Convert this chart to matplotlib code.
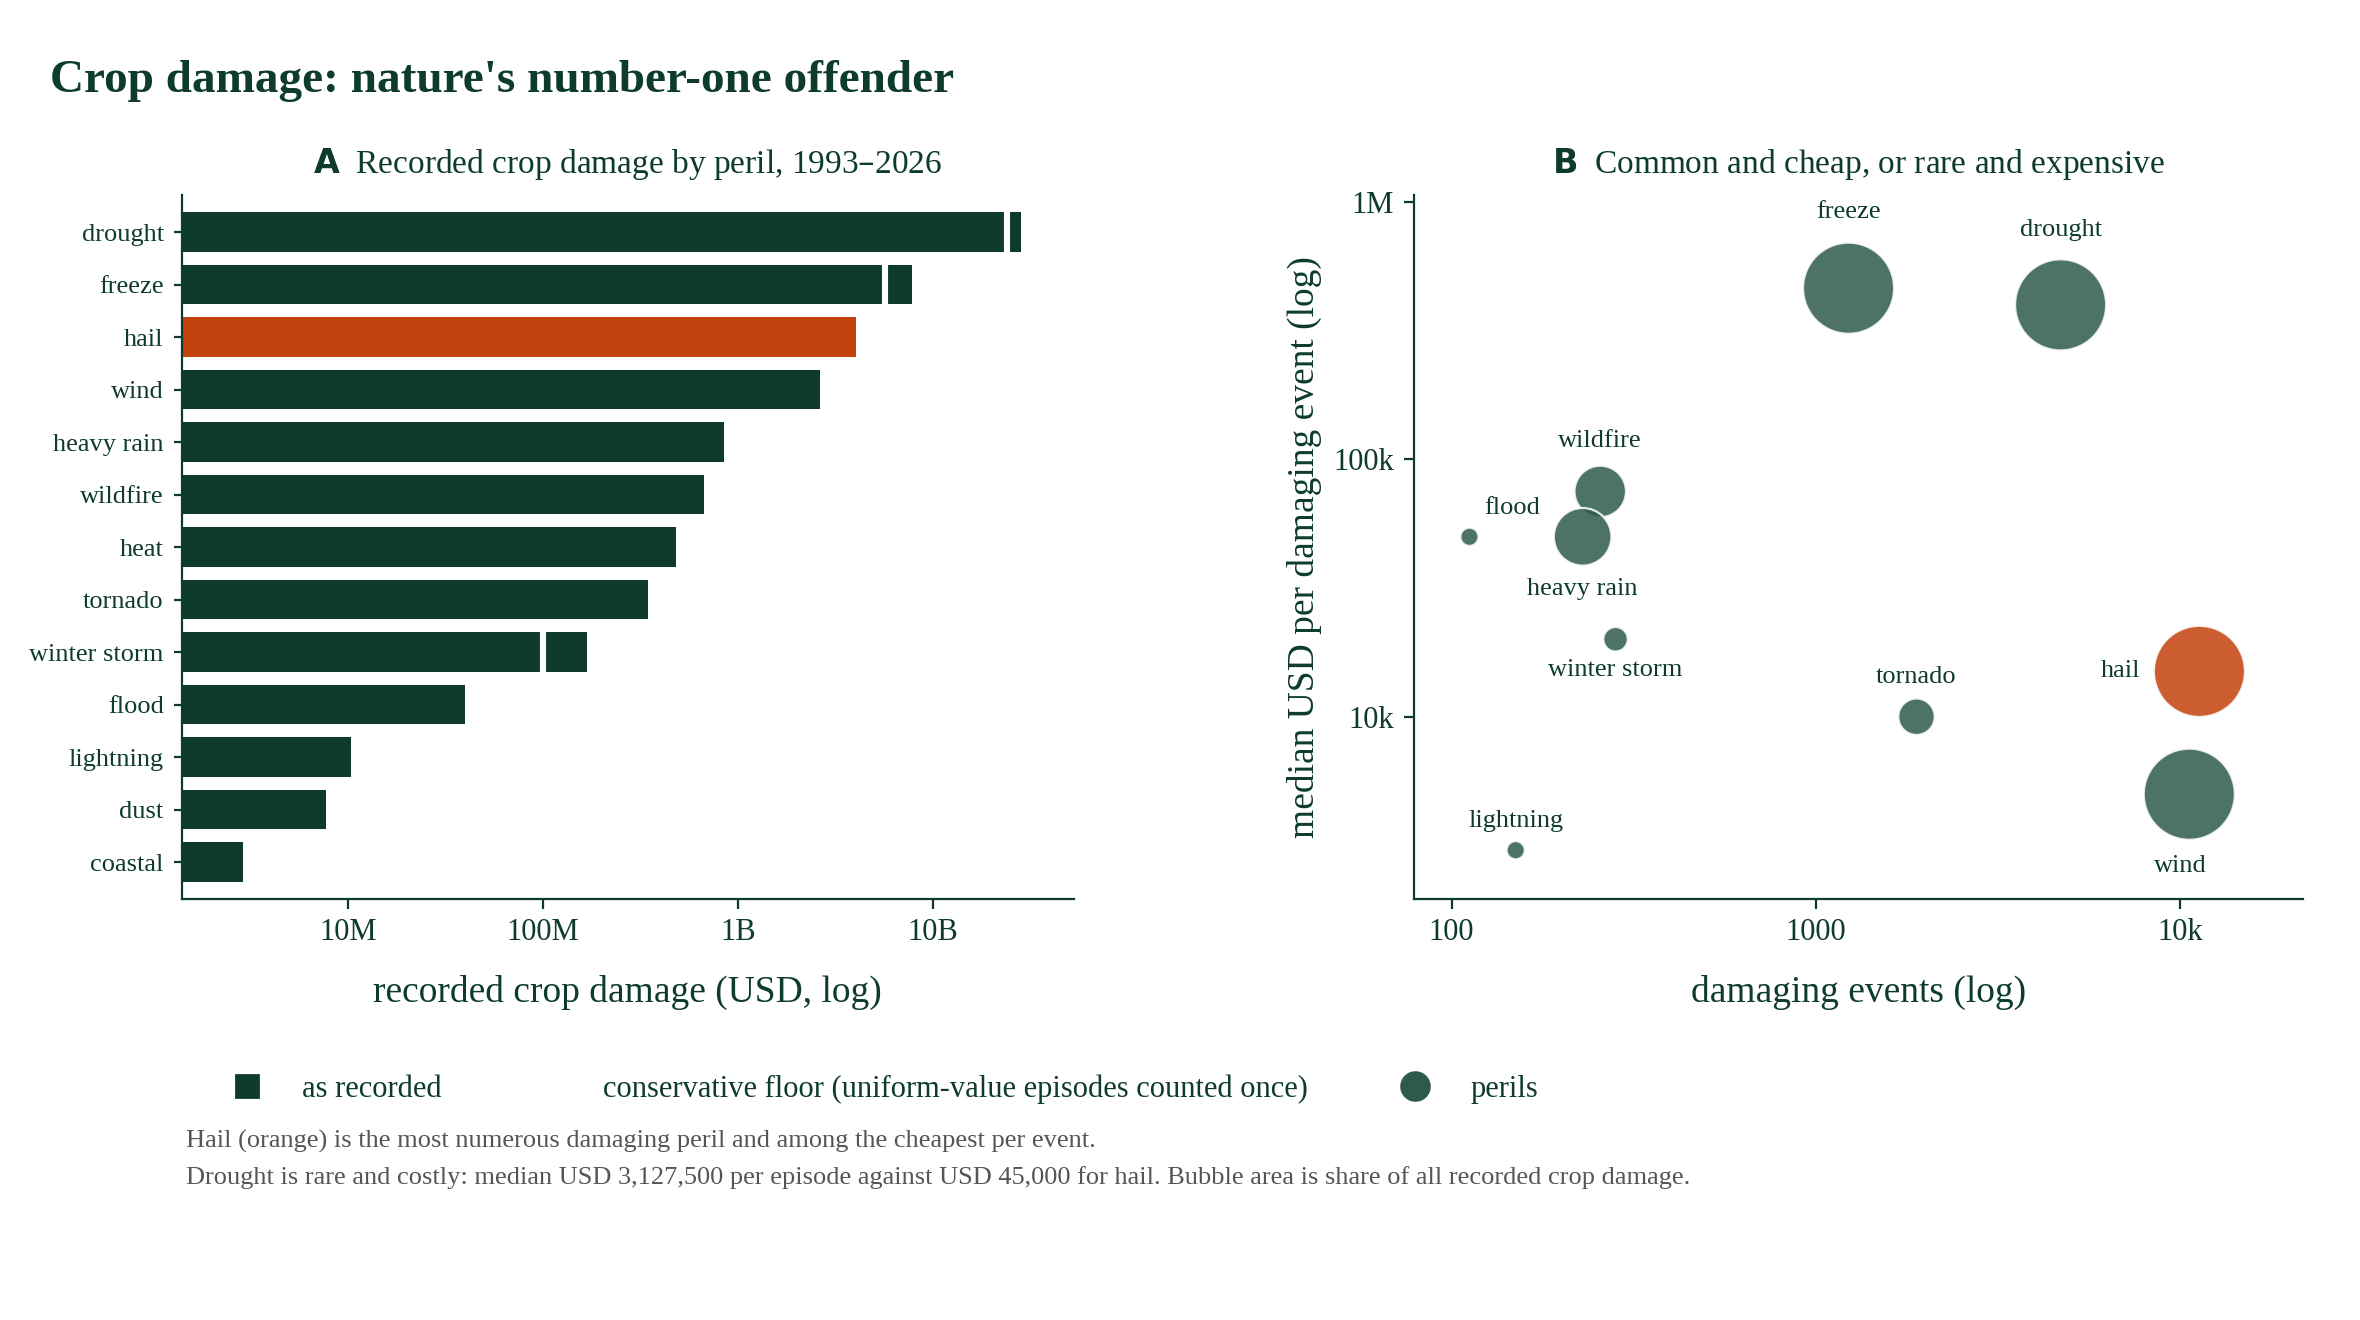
import matplotlib
matplotlib.use("Agg")
import matplotlib.pyplot as plt
from matplotlib.ticker import FixedLocator, FixedFormatter, NullLocator
from matplotlib.lines import Line2D
import numpy as np

plt.rcParams['font.family'] = ['Liberation Serif', 'DejaVu Serif']
DARK = '#0d3b2e'
BUB = '#2e5a4c'
ORANGE = '#c2410c'

perils = ['drought', 'freeze', 'hail', 'wind', 'heavy rain', 'wildfire', 'heat', 'tornado',
          'winter storm', 'flood', 'lightning', 'dust', 'coastal']
recorded = [28.4e9, 7.8e9, 4.06e9, 2.64e9, 851e6, 673e6, 479e6, 346e6, 169e6, 40e6, 10.4e6, 7.7e6, 2.9e6]
floor = [24.2e9, 5.7e9, None, None, None, None, None, None, 100e6, None, None, None, None]

sc_perils = ['freeze', 'drought', 'wildfire', 'flood', 'heavy rain', 'winter storm', 'tornado', 'hail', 'wind', 'lightning']
sc_events = [1230, 4700, 256, 112, 229, 282, 1890, 11300, 10600, 150]
sc_median = [462e3, 398e3, 75e3, 50e3, 50e3, 20e3, 10e3, 15e3, 5e3, 3.03e3]
sc_share = [25, 25, 8, 1, 10, 1.8, 4, 25, 25, 1]

fig = plt.figure(figsize=(11.8, 6.6), dpi=200)
fig.text(0.021, 0.939, "Crop damage: nature's number-one offender", fontsize=17, fontweight='bold',
         color=DARK, va='center')

# Panel A
ax = fig.add_axes([0.077, 0.319, 0.378, 0.533])
y = np.arange(len(perils))
colors = [ORANGE if p == 'hail' else DARK for p in perils]
ax.barh(y, recorded, height=0.75, color=colors, left=1)
for i, f in enumerate(floor):
    if f is not None:
        ax.plot([f, f], [i - 0.375, i + 0.375], color='white', lw=2.2, solid_capstyle='butt')
ax.set_xscale('log')
ax.set_xlim(1.4e6, 53e9)
ax.set_ylim(len(perils) - 0.3, -0.7)
ax.set_yticks(y)
ax.set_yticklabels(perils, fontsize=9.5, color=DARK)
ax.xaxis.set_major_locator(FixedLocator([1e7, 1e8, 1e9, 1e10]))
ax.xaxis.set_major_formatter(FixedFormatter(['10M', '100M', '1B', '10B']))
ax.xaxis.set_minor_locator(NullLocator())
ax.tick_params(axis='x', labelsize=11, colors=DARK)
ax.tick_params(axis='y', length=3, colors=DARK)
ax.set_xlabel('recorded crop damage (USD, log)', fontsize=13.5, color=DARK, labelpad=10)
for s in ['top', 'right']:
    ax.spines[s].set_visible(False)
for s in ['left', 'bottom']:
    ax.spines[s].set_color(DARK)
ax.set_title(r'$\bf{A}$  Recorded crop damage by peril, 1993–2026', fontsize=12, color=DARK, pad=8)

# Panel B
bx = fig.add_axes([0.599, 0.319, 0.377, 0.533])
scol = [ORANGE if p == 'hail' else BUB for p in sc_perils]
bx.scatter(sc_events, sc_median, s=[v * 43 for v in sc_share], c=scol, alpha=0.85,
           edgecolors='white', linewidths=0.8, zorder=3)
offs = {'freeze': (0, 50), 'drought': (0, 49), 'wildfire': (0, 33), 'flood': (28, 19),
        'heavy rain': (0, -34), 'winter storm': (0, -20), 'tornado': (0, 26), 'hail': (-52, 0),
        'wind': (-6, -47), 'lightning': (0, 19)}
for p, xv, yv in zip(sc_perils, sc_events, sc_median):
    dx, dy = offs[p]
    bx.annotate(p, (xv, yv), xytext=(dx * 0.548, dy * 0.548), textcoords='offset points',
                ha='center', va='center', fontsize=9.5, color=DARK)
bx.set_xscale('log')
bx.set_yscale('log')
bx.set_xlim(78.7, 21800)
bx.set_ylim(1960, 1.06e6)
bx.xaxis.set_major_locator(FixedLocator([100, 1000, 10000]))
bx.xaxis.set_major_formatter(FixedFormatter(['100', '1000', '10k']))
bx.yaxis.set_major_locator(FixedLocator([1e4, 1e5, 1e6]))
bx.yaxis.set_major_formatter(FixedFormatter(['10k', '100k', '1M']))
bx.xaxis.set_minor_locator(NullLocator())
bx.yaxis.set_minor_locator(NullLocator())
bx.tick_params(labelsize=11, colors=DARK)
bx.set_xlabel('damaging events (log)', fontsize=13.5, color=DARK, labelpad=10)
bx.set_ylabel('median USD per damaging event (log)', fontsize=13.5, color=DARK)
for s in ['top', 'right']:
    bx.spines[s].set_visible(False)
for s in ['left', 'bottom']:
    bx.spines[s].set_color(DARK)
bx.set_title(r'$\bf{B}$  Common and cheap, or rare and expensive', fontsize=12, color=DARK, pad=8)

handles = [Line2D([], [], marker='s', ls='none', color=DARK, markersize=8),
           Line2D([], [], color='white', lw=2),
           Line2D([], [], marker='o', ls='none', color=BUB, markersize=10)]
labels = ['as recorded', 'conservative floor (uniform-value episodes counted once)', 'perils']
leg = fig.legend(handles, labels, loc='center left', bbox_to_anchor=(0.08, 0.175), ncol=3,
                 frameon=False, fontsize=11, columnspacing=2.5, handletextpad=0.8)
for t in leg.get_texts():
    t.set_color(DARK)

fig.text(0.079, 0.135, 'Hail (orange) is the most numerous damaging peril and among the cheapest per event.',
         fontsize=9.5, color='#555555', va='center')
fig.text(0.079, 0.108, 'Drought is rare and costly: median USD 3,127,500 per episode against USD 45,000 for hail. '
         'Bubble area is share of all recorded crop damage.', fontsize=9.5, color='#555555', va='center')

fig.savefig('out.png', dpi=200)
